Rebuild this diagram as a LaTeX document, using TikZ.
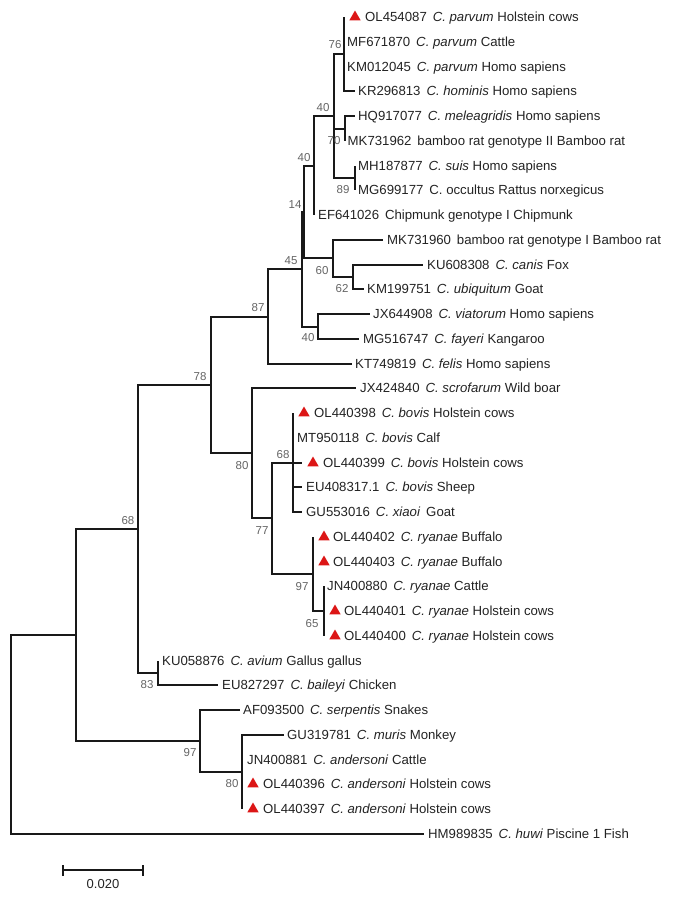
\documentclass[tikz,border=0pt]{standalone}
\usepackage{fontspec}
\setmainfont{Liberation Sans}
\usetikzlibrary{shapes.geometric}
\definecolor{trired}{RGB}{220,22,22}
\definecolor{txt}{RGB}{35,35,35}
\definecolor{bsc}{RGB}{100,100,100}
\definecolor{brc}{RGB}{25,25,25}
\begin{document}
\begin{tikzpicture}[x=1pt,y=-1pt,
  br/.style={line width=1.7pt, draw=brc},
  lab/.style={anchor=west, inner sep=0pt, text height=9.45pt, text depth=0pt, font=\fontsize{13.2}{15}\selectfont, text=txt},
  bs/.style={inner sep=0pt, text height=8.2pt, text depth=0pt, font=\fontsize{11.5}{13}\selectfont, text=bsc},
  tri/.style={regular polygon, regular polygon sides=3, fill=trired, inner sep=0pt, minimum size=13pt}]
\useasboundingbox (0,0) rectangle (676,897);
% internal nodes
\coordinate (R) at (11,734);
\coordinate (L) at (76,635);
\coordinate (J) at (138,529);
\coordinate (D) at (211,385);
\coordinate (C) at (268,317);
\coordinate (B) at (302,269);
\coordinate (A) at (304,212);
\coordinate (N40b) at (314,166);
\coordinate (N40a) at (334,116);
\coordinate (P76) at (344,54);
\coordinate (Mel) at (345,129);
\coordinate (Suis) at (355,178);
\coordinate (N60) at (333,258);
\coordinate (N62) at (353,277);
\coordinate (V) at (318,327);
\coordinate (E) at (252,453);
\coordinate (F) at (272,518);
\coordinate (G) at (293,463);
\coordinate (H) at (313,574);
\coordinate (I) at (324,611);
\coordinate (K) at (158,673);
\coordinate (M) at (200,741);
\coordinate (N) at (242,772);
% leaf tips
\coordinate (l1) at (344,17);
\coordinate (l2) at (344,42);
\coordinate (l3) at (344,67);
\coordinate (l4) at (355,91);
\coordinate (l5) at (355,116);
\coordinate (l6) at (345,141);
\coordinate (l7) at (355,166);
\coordinate (l8) at (355,190);
\coordinate (l9) at (314,215);
\coordinate (l10) at (383,240);
\coordinate (l11) at (423,265);
\coordinate (l12) at (364,289);
\coordinate (l13) at (370,314);
\coordinate (l14) at (359,339);
\coordinate (l15) at (352,364);
\coordinate (l16) at (356,388);
\coordinate (l17) at (293,413);
\coordinate (l18) at (293,438);
\coordinate (l19) at (302,463);
\coordinate (l20) at (302,487);
\coordinate (l21) at (302,512);
\coordinate (l22) at (313,537);
\coordinate (l23) at (313,562);
\coordinate (l24) at (324,586);
\coordinate (l25) at (324,611);
\coordinate (l26) at (324,636);
\coordinate (l27) at (158,661);
\coordinate (l28) at (218,685);
\coordinate (l29) at (240,710);
\coordinate (l30) at (284,735);
\coordinate (l31) at (242,760);
\coordinate (l32) at (242,784);
\coordinate (l33) at (242,809);
\coordinate (l34) at (424,834);
% branches
\foreach \p/\c in {R/L,R/l34,L/J,L/M,J/D,J/K,D/C,D/E,C/B,C/l15,B/A,B/V,A/N40b,A/N60,
  N40b/N40a,N40b/l9,N40a/P76,N40a/Mel,N40a/Suis,P76/l1,P76/l2,P76/l3,P76/l4,
  Mel/l5,Mel/l6,Suis/l7,Suis/l8,N60/l10,N60/N62,N62/l11,N62/l12,V/l13,V/l14,
  E/l16,E/F,F/G,F/H,G/l17,G/l18,G/l19,G/l20,G/l21,H/l22,H/l23,H/I,I/l24,I/l25,I/l26,
  K/l27,K/l28,M/l29,M/N,N/l30,N/l31,N/l32,N/l33}
  \draw[br] (\p) |- (\c);
% triangles
\foreach \l in {1,17,19,22,23,25,26,32,33}
  \node[tri] (t\l) at ([xshift=11pt]l\l) {};
% labels
\newcommand{\gp}{\hspace{0.45em}}
\node[lab] (n1) at ([xshift=21pt]l1) {OL454087\gp\textit{C. parvum} Holstein cows};
\node[lab] (n2) at ([xshift=3pt]l2) {MF671870\gp\textit{C. parvum} Cattle};
\node[lab] (n3) at ([xshift=3pt]l3) {KM012045\gp\textit{C. parvum} Homo sapiens};
\node[lab] (n4) at ([xshift=3pt]l4) {KR296813\gp\textit{C. hominis} Homo sapiens};
\node[lab] (n5) at ([xshift=3pt]l5) {HQ917077\gp\textit{C. meleagridis} Homo sapiens};
\node[lab] (n6) at ([xshift=2.5pt]l6) {MK731962\gp bamboo rat genotype II Bamboo rat};
\node[lab] (n7) at ([xshift=3pt]l7) {MH187877\gp\textit{C. suis} Homo sapiens};
\node[lab] (n8) at ([xshift=3pt]l8) {MG699177\gp C. occultus Rattus norxegicus};
\node[lab] (n9) at ([xshift=4pt]l9) {EF641026\gp Chipmunk genotype I Chipmunk};
\node[lab] (n10) at ([xshift=4pt]l10) {MK731960\gp bamboo rat genotype I Bamboo rat};
\node[lab] (n11) at ([xshift=4pt]l11) {KU608308\gp\textit{C. canis} Fox};
\node[lab] (n12) at ([xshift=3pt]l12) {KM199751\gp\textit{C. ubiquitum} Goat};
\node[lab] (n13) at ([xshift=3pt]l13) {JX644908\gp\textit{C. viatorum} Homo sapiens};
\node[lab] (n14) at ([xshift=4pt]l14) {MG516747\gp\textit{C. fayeri} Kangaroo};
\node[lab] (n15) at ([xshift=3pt]l15) {KT749819\gp\textit{C. felis} Homo sapiens};
\node[lab] (n16) at ([xshift=4pt]l16) {JX424840\gp\textit{C. scrofarum} Wild boar};
\node[lab] (n17) at ([xshift=21pt]l17) {OL440398\gp\textit{C. bovis} Holstein cows};
\node[lab] (n18) at ([xshift=4pt]l18) {MT950118\gp\textit{C. bovis} Calf};
\node[lab] (n19) at ([xshift=21pt]l19) {OL440399\gp\textit{C. bovis} Holstein cows};
\node[lab] (n20) at ([xshift=4pt]l20) {EU408317.1\gp\textit{C. bovis} Sheep};
\node[lab] (n21) at ([xshift=4pt]l21) {GU553016\gp\textit{C. xiaoi}\gp Goat};
\node[lab] (n22) at ([xshift=20pt]l22) {OL440402\gp\textit{C. ryanae} Buffalo};
\node[lab] (n23) at ([xshift=20pt]l23) {OL440403\gp\textit{C. ryanae} Buffalo};
\node[lab] (n24) at ([xshift=3pt]l24) {JN400880\gp\textit{C. ryanae} Cattle};
\node[lab] (n25) at ([xshift=20pt]l25) {OL440401\gp\textit{C. ryanae} Holstein cows};
\node[lab] (n26) at ([xshift=20pt]l26) {OL440400\gp\textit{C. ryanae} Holstein cows};
\node[lab] (n27) at ([xshift=4pt]l27) {KU058876\gp\textit{C. avium} Gallus gallus};
\node[lab] (n28) at ([xshift=4pt]l28) {EU827297\gp\textit{C. baileyi} Chicken};
\node[lab] (n29) at ([xshift=3pt]l29) {AF093500\gp\textit{C. serpentis} Snakes};
\node[lab] (n30) at ([xshift=3pt]l30) {GU319781\gp\textit{C. muris} Monkey};
\node[lab] (n31) at ([xshift=5pt]l31) {JN400881\gp\textit{C. andersoni} Cattle};
\node[lab] (n32) at ([xshift=21pt]l32) {OL440396\gp\textit{C. andersoni} Holstein cows};
\node[lab] (n33) at ([xshift=21pt]l33) {OL440397\gp\textit{C. andersoni} Holstein cows};
\node[lab] (n34) at ([xshift=4pt]l34) {HM989835\gp\textit{C. huwi} Piscine 1 Fish};
% bootstrap values
\node[bs] (b76) at (335,44) {76};
\node[bs] (b40a) at (323,107) {40};
\node[bs] (b70) at (334,140) {70};
\node[bs] (b40b) at (304,157) {40};
\node[bs] (b89) at (343,189) {89};
\node[bs] (b14) at (295,204) {14};
\node[bs] (b45) at (291,260) {45};
\node[bs] (b60) at (322,270) {60};
\node[bs] (b62) at (342,288) {62};
\node[bs] (b40c) at (308,337) {40};
\node[bs] (b87) at (258,307) {87};
\node[bs] (b78) at (200,376) {78};
\node[bs] (b80a) at (242,465) {80};
\node[bs] (b68a) at (283,454) {68};
\node[bs] (b77) at (262,530) {77};
\node[bs] (b97a) at (302,586) {97};
\node[bs] (b65) at (312,623) {65};
\node[bs] (b68b) at (128,520) {68};
\node[bs] (b83) at (147,684) {83};
\node[bs] (b97b) at (190,752) {97};
\node[bs] (b80b) at (232,783) {80};
% scale bar
\coordinate (s1) at (63,870);
\coordinate (s2) at (143,870);
\draw[br] (s1) -- (s2);
\draw[br] ([yshift=-5.5pt]s1) -- ([yshift=5.5pt]s1);
\draw[br] ([yshift=-5.5pt]s2) -- ([yshift=5.5pt]s2);
\node[bs, text=txt, font=\fontsize{13}{15}\selectfont, text height=9.3pt] (sl) at (103,884) {0.020};
\end{tikzpicture}
\end{document}
